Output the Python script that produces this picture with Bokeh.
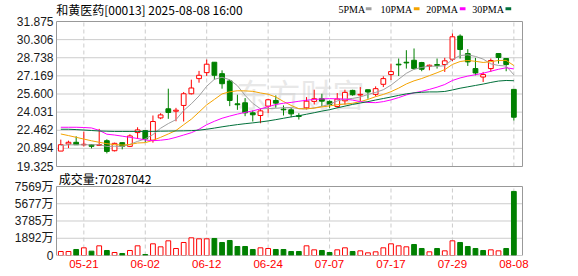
from bokeh.plotting import figure
from bokeh.models import Range1d, FixedTicker, Label, Grid
from bokeh.embed import file_html
from bokeh.resources import INLINE
from bokeh.core.properties import value

# ---------------- data ----------------
dates = ["2025-05-16", "2025-05-19", "2025-05-20", "2025-05-21", "2025-05-22", "2025-05-23",
         "2025-05-26", "2025-05-27", "2025-05-28", "2025-05-29", "2025-05-30", "2025-06-02",
         "2025-06-03", "2025-06-04", "2025-06-05", "2025-06-06", "2025-06-09", "2025-06-10",
         "2025-06-11", "2025-06-12", "2025-06-13", "2025-06-16", "2025-06-17", "2025-06-18",
         "2025-06-19", "2025-06-20", "2025-06-23", "2025-06-24", "2025-06-25", "2025-06-26",
         "2025-06-27", "2025-06-30", "2025-07-02", "2025-07-03", "2025-07-04", "2025-07-07",
         "2025-07-08", "2025-07-09", "2025-07-10", "2025-07-11", "2025-07-14", "2025-07-15",
         "2025-07-16", "2025-07-17", "2025-07-18", "2025-07-21", "2025-07-22", "2025-07-23",
         "2025-07-24", "2025-07-25", "2025-07-28", "2025-07-29", "2025-07-30", "2025-07-31",
         "2025-08-01", "2025-08-04", "2025-08-05", "2025-08-06", "2025-08-07", "2025-08-08"]

opens = [20.66, 21.27, 21.42, 21.20, 21.21, 21.15, 21.56, 20.69, 21.39, 21.07,
         22.26, 22.43, 21.60, 23.53, 24.32, 24.11, 24.61, 25.62, 26.93, 27.45,
         28.35, 27.36, 26.73, 24.75, 24.84, 23.97, 23.74, 24.55, 25.04, 24.29,
         24.23, 23.74, 24.40, 24.96, 25.19, 24.96, 24.52, 25.01, 25.91, 25.51,
         25.97, 25.57, 26.44, 27.28, 28.18, 28.35, 28.52, 28.32, 28.00, 28.15,
         28.15, 28.61, 30.61, 29.10, 27.80, 27.07, 27.80, 29.10, 28.67, 26.00]
highs = [21.65, 21.56, 21.94, 22.34, 21.27, 22.58, 21.68, 21.39, 21.42, 22.11,
         22.72, 22.45, 23.74, 23.94, 26.06, 24.40, 25.77, 26.84, 27.60, 28.58,
         28.35, 27.65, 26.84, 25.54, 25.25, 24.17, 24.34, 25.19, 25.48, 24.61,
         24.38, 23.94, 25.33, 25.97, 25.62, 25.04, 25.68, 25.97, 25.97, 26.20,
         25.97, 26.26, 27.13, 28.23, 28.67, 29.39, 29.54, 28.38, 28.15, 28.67,
         28.73, 30.84, 30.76, 29.48, 28.73, 27.51, 28.67, 29.10, 28.67, 26.00]
lows = [20.66, 20.92, 21.21, 21.05, 20.89, 21.12, 20.46, 20.63, 20.81, 21.01,
        21.71, 21.45, 21.39, 23.42, 23.45, 23.24, 23.22, 25.56, 26.58, 27.16,
        26.84, 26.06, 24.55, 24.23, 23.68, 23.22, 23.07, 23.94, 24.41, 23.74,
        23.59, 23.39, 24.26, 24.69, 24.52, 24.40, 24.40, 24.69, 25.45, 24.98,
        25.19, 25.39, 26.20, 26.81, 27.16, 27.80, 27.71, 27.57, 27.65, 27.80,
        27.51, 28.44, 28.67, 28.03, 27.22, 26.64, 27.51, 28.23, 27.57, 23.30]
closes = [21.21, 21.42, 21.21, 21.25, 21.07, 21.22, 20.63, 21.33, 21.07, 21.97,
          22.49, 21.71, 23.22, 23.79, 24.00, 24.20, 25.62, 26.12, 27.22, 28.18,
          27.22, 26.49, 25.04, 24.67, 23.97, 23.80, 24.14, 25.10, 24.81, 24.23,
          23.88, 23.65, 24.98, 25.19, 24.98, 24.69, 25.16, 25.74, 25.54, 25.57,
          25.77, 26.06, 26.93, 27.54, 28.12, 28.29, 27.80, 27.74, 28.09, 28.07,
          28.47, 30.55, 29.45, 28.38, 27.42, 27.28, 28.50, 28.76, 28.15, 23.59]

ma5 = [21.15, 21.20, 21.20, 21.20, 21.21, 21.21, 21.06, 21.08, 21.06, 21.24,
       21.50, 21.71, 22.09, 22.64, 23.04, 23.38, 24.17, 24.75, 25.43, 26.27,
       26.87, 27.05, 26.83, 26.32, 25.48, 24.79, 24.32, 24.34, 24.36, 24.42,
       24.43, 24.33, 24.31, 24.39, 24.54, 24.70, 25.00, 25.15, 25.22, 25.34,
       25.56, 25.74, 25.97, 26.37, 26.88, 27.39, 27.74, 27.90, 28.01, 28.00,
       28.04, 28.59, 28.93, 28.99, 28.85, 28.62, 28.21, 28.07, 28.02, 27.26]
ma10 = [22.14, 22.00, 21.85, 21.70, 21.55, 21.42, 21.30, 21.22, 21.18, 21.23,
        21.36, 21.39, 21.59, 21.85, 22.14, 22.44, 22.94, 23.42, 24.03, 24.66,
        25.13, 25.61, 25.79, 25.88, 25.87, 25.83, 25.69, 25.58, 25.34, 24.95,
        24.61, 24.33, 24.32, 24.38, 24.48, 24.57, 24.67, 24.73, 24.80, 24.94,
        25.13, 25.37, 25.56, 25.80, 26.11, 26.47, 26.74, 26.94, 27.19, 27.44,
        27.71, 28.16, 28.41, 28.50, 28.43, 28.33, 28.40, 28.50, 28.51, 28.06]
ma20 = [22.72, 22.72, 22.72, 22.70, 22.66, 22.45, 22.12, 22.05, 21.95, 21.85,
        21.75, 21.62, 21.56, 21.60, 21.68, 21.85, 22.05, 22.25, 22.55, 22.94,
        23.24, 23.50, 23.69, 23.86, 24.01, 24.14, 24.31, 24.50, 24.69, 24.80,
        24.87, 24.97, 25.06, 25.13, 25.17, 25.20, 25.18, 25.16, 25.07, 24.94,
        24.87, 24.85, 24.94, 25.09, 25.29, 25.52, 25.70, 25.83, 26.00, 26.19,
        26.42, 26.77, 26.99, 27.15, 27.27, 27.40, 27.57, 27.74, 27.87, 27.77]
ma30 = [22.55, 22.55, 22.52, 22.48, 22.44, 22.40, 22.38, 22.36, 22.36, 22.36,
        22.36, 22.36, 22.37, 22.38, 22.39, 22.40, 22.41, 22.43, 22.47, 22.55,
        22.65, 22.76, 22.86, 22.95, 23.03, 23.10, 23.18, 23.27, 23.38, 23.50,
        23.62, 23.72, 23.85, 23.98, 24.12, 24.24, 24.40, 24.55, 24.70, 24.82,
        24.94, 25.08, 25.21, 25.34, 25.48, 25.61, 25.70, 25.75, 25.78, 25.78,
        25.82, 25.95, 26.10, 26.22, 26.34, 26.46, 26.60, 26.72, 26.77, 26.75]

volumes_wan = [439, 439, 659, 842, 476, 1061, 549, 329, 220, 549,
               1061, 110, 1281, 952, 1610, 769, 1427, 1940, 1830, 1830,
               1867, 1427, 1647, 988, 988, 659, 842, 769, 659, 659,
               439, 439, 1061, 622, 549, 329, 622, 842, 439, 512,
               293, 403, 842, 1281, 1061, 952, 1208, 769, 403, 769,
               512, 1610, 1427, 988, 769, 549, 622, 512, 769, 7028.7]
vol_up = [1, 1, 0, 1, 0, 1, 0, 1, 0, 1,
          1, 0, 1, 1, 1, 1, 1, 1, 1, 1,
          0, 0, 0, 0, 0, 0, 1, 1, 0, 0,
          0, 0, 1, 1, 0, 0, 1, 1, 0, 1,
          1, 1, 1, 1, 1, 1, 0, 0, 1, 0,
          1, 1, 0, 0, 0, 0, 1, 1, 0, 0]

price_ticks = [19.325, 20.894, 22.462, 24.031, 25.600, 27.169, 28.738, 30.306, 31.875]
price_tick_labels = ["19.325", "20.894", "22.462", "24.031", "25.600", "27.169", "28.738", "30.306", "31.875"]
vol_ticks = [0, 1892, 3785, 5677, 7569]
vol_tick_labels = ["0", "1892万", "3785万", "5677万", "7569万"]
date_tick_labels = ["05-21", "06-02", "06-12", "06-24", "07-07", "07-17", "07-29", "08-08"]

title_text = "和黄医药[00013] 2025-08-08 16:00"
vol_title_text = "成交量:70287042"
ma_names = ["5PMA", "10PMA", "20PMA", "30PMA"]
watermark_text = "东方财富"

# ---------------- styling / geometry (page pixels) ----------------
RED = "#ff0000"
GREEN = "#008000"
MA_COLORS = ["#a0a0a0", "#f4a300", "#ff00ff", "#00703a"]
GRID = "#cccccc"
BORDER = "#999999"
W, H = 578, 276
FRAME_L, FRAME_R, FRAME_B = 55, 523, 255
PANEL_L, PANEL_R = 56, 522
P_TOP, P_BOT = 21, 166          # price panel top/bottom
V_TOP, V_BOT = 186, 255         # volume panel top/bottom
X0_PX, DX_PX = 60.3, 7.679      # first candle centre and candle pitch


def x_of_px(px):
    return (px - X0_PX) / DX_PX


KP = (price_ticks[-1] - price_ticks[0]) / (P_BOT - P_TOP)
KV = vol_ticks[-1] / (V_BOT - V_TOP)


def price_of_py(py):
    return price_ticks[-1] - (py - P_TOP) * KP


def vol_of_py(py):
    return (V_BOT - py) * KV


def py_of_vol(v):
    return V_BOT - v / KV


idx = list(range(len(dates)))
date_tick_idx = [dates.index("2025-" + d) for d in date_tick_labels]
xl, xr = x_of_px(PANEL_L), x_of_px(PANEL_R)

p = figure(width=W, height=H,
           x_range=Range1d(x_of_px(FRAME_L), x_of_px(FRAME_R)),
           y_range=Range1d(price_of_py(FRAME_B), price_of_py(0)),
           output_backend="svg", toolbar_location=None,
           min_border_left=FRAME_L, min_border_right=W - FRAME_R,
           min_border_top=0, min_border_bottom=H - FRAME_B)
p.extra_y_ranges = {"vol": Range1d(0, vol_of_py(0))}
p.center = [r for r in p.center if not isinstance(r, Grid)]
p.outline_line_color = None
p.background_fill_color = "white"
p.border_fill_color = "white"

# ---- y axis: price ticks (upper panel) and volume ticks (lower panel) ----
vol_tick_pos = [price_of_py(py_of_vol(v)) for v in vol_ticks]
all_ticks = price_ticks + vol_tick_pos
all_labels = price_tick_labels + vol_tick_labels
ya = p.yaxis[0]
ya.ticker = FixedTicker(ticks=all_ticks)
ya.major_label_overrides = {t: s for t, s in zip(all_ticks, all_labels)}
ya.axis_line_color = None
ya.major_tick_line_color = None
ya.minor_tick_line_color = None
ya.major_tick_out = 0
ya.major_tick_in = 0
ya.major_label_standoff = 2
ya.major_label_text_font = "Liberation Sans, Noto Sans CJK SC"
ya.major_label_text_font_size = "12px"
ya.major_label_text_color = "#1a1a1a"

# ---- x axis: dates ----
xa = p.xaxis[0]
xa.ticker = FixedTicker(ticks=date_tick_idx)
xa.major_label_overrides = {i: s for i, s in zip(date_tick_idx, date_tick_labels)}
xa.axis_line_color = None
xa.major_tick_line_color = None
xa.minor_tick_line_color = None
xa.major_tick_out = 0
xa.major_tick_in = 0
xa.major_label_standoff = 4
xa.major_label_text_font = "Liberation Sans"
xa.major_label_text_font_size = "11.5px"
xa.major_label_text_color = RED

# ---- watermark ----
p.add_layout(Label(x=x_of_px(236), y=price_of_py(92), text=watermark_text,
                   text_font="Noto Sans CJK SC", text_font_size="32px",
                   text_color="#e8e8e8", text_align="left", text_baseline="middle",
                   level="underlay"))

# ---- grid lines inside both panels ----
inner_p = price_ticks[1:-1]
p.segment(x0=[xl] * len(inner_p), x1=[xr] * len(inner_p), y0=inner_p, y1=inner_p,
          line_color=GRID, line_width=1)
p.segment(x0=date_tick_idx, x1=date_tick_idx,
          y0=[price_ticks[0]] * len(date_tick_idx), y1=[price_ticks[-1]] * len(date_tick_idx),
          line_color=GRID, line_width=1, line_dash="4 3")
inner_v = vol_ticks[1:-1]
p.segment(x0=[xl] * len(inner_v), x1=[xr] * len(inner_v), y0=inner_v, y1=inner_v,
          line_color=GRID, line_width=1, y_range_name="vol")
p.segment(x0=date_tick_idx, x1=date_tick_idx,
          y0=[vol_ticks[0]] * len(date_tick_idx), y1=[vol_ticks[-1]] * len(date_tick_idx),
          line_color=GRID, line_width=1, line_dash="4 3", y_range_name="vol")

# ---- candles ----
up = [c >= o for o, c in zip(opens, closes)]
ccol = [RED if u else GREEN for u in up]
p.segment(x0=idx, y0=lows, x1=idx, y1=highs, line_color=ccol, line_width=1)
p.vbar(x=idx, width=0.62,
       top=[max(o, c) for o, c in zip(opens, closes)],
       bottom=[min(o, c) for o, c in zip(opens, closes)],
       fill_color=["white" if u else GREEN for u in up], line_color=ccol, line_width=1)

# ---- moving averages ----
for series, col in zip([ma5, ma10, ma20, ma30], MA_COLORS):
    p.line(idx, series, line_color=col, line_width=1)

# ---- volume bars ----
p.vbar(x=idx, width=0.62, top=volumes_wan, bottom=0,
       fill_color=["white" if u else GREEN for u in vol_up],
       line_color=[RED if u else GREEN for u in vol_up], line_width=1,
       y_range_name="vol")

# ---- panel borders ----
p.quad(left=[xl], right=[xr], bottom=[price_ticks[0]], top=[price_ticks[-1]],
       fill_color=None, line_color=BORDER, line_width=1)
p.quad(left=[xl], right=[xr], bottom=[vol_ticks[0]], top=[vol_ticks[-1]],
       fill_color=None, line_color=BORDER, line_width=1, y_range_name="vol")

# ---- header texts ----
p.text(x=[x_of_px(55.7)], y=[price_of_py(8.5)], text=[title_text],
       text_font=value("Noto Sans CJK SC"), text_font_size=value("12px"),
       text_color="#000000", text_align="left", text_baseline="middle")
legend_text_px = [338, 380, 425.7, 471.7]
legend_swatch_px = [365.3, 413.3, 459.3, 505]
p.text(x=[x_of_px(t) for t in legend_text_px], y=[price_of_py(9)] * 4, text=ma_names,
       text_font=value("Liberation Serif"), text_font_size=value("10px"),
       text_color="#000000", text_align="left", text_baseline="middle")
p.quad(left=[x_of_px(s) for s in legend_swatch_px],
       right=[x_of_px(s + 5.7) for s in legend_swatch_px],
       top=[price_of_py(6.7)] * 4, bottom=[price_of_py(9.7)] * 4,
       fill_color=MA_COLORS, line_color=None)
p.text(x=[x_of_px(58.3)], y=[price_of_py(177.7)], text=[vol_title_text],
       text_font=value("Noto Sans CJK SC"), text_font_size=value("12px"),
       text_color="#000000", text_align="left", text_baseline="middle")

open("out.html", "w").write(file_html(p, INLINE))
